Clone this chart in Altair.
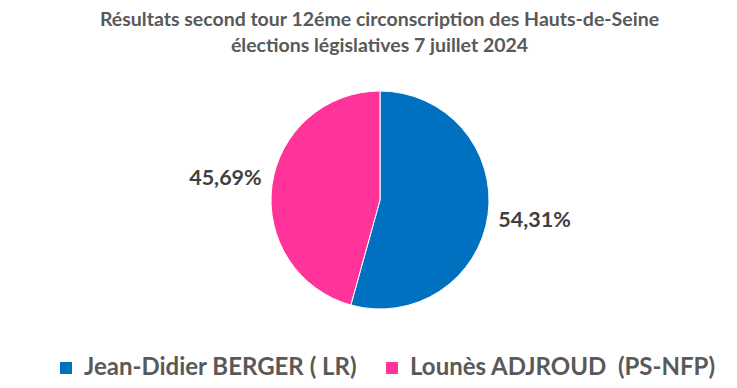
import altair as alt
import pandas as pd

candidates = ["Jean-Didier BERGER ( LR)", "Lounès ADJROUD\u00a0 (PS-NFP)"]
shares = [54.31, 45.69]
labels = ["54,31%", "45,69%"]
colors = ["#0070C0", "#FF3399"]
order = [1, 2]

df = pd.DataFrame({"candidat": candidates, "pct": shares, "label": labels, "ordre": order})

FONT = "Lato"
TOP = 52
cx, cy = 372, 192 - TOP

base = alt.Chart(df).encode(
    theta=alt.Theta("pct:Q", stack=True),
    order=alt.Order("ordre:Q"),
    x=alt.value(cx),
    y=alt.value(cy),
)

pie = base.mark_arc(outerRadius=109, stroke="white", strokeWidth=1).encode(
    color=alt.Color(
        "candidat:N",
        scale=alt.Scale(domain=candidates, range=colors),
        sort=candidates,
        legend=alt.Legend(
            title=None,
            orient="none",
            direction="horizontal",
            legendX=46,
            legendY=348 - TOP,
            symbolType="square",
            symbolSize=144,
            symbolStrokeWidth=0,
            labelFont=FONT,
            labelFontSize=24,
            labelFontWeight="bold",
            labelColor="#595959",
            labelLimit=400,
            columnPadding=22,
            labelOffset=6,
        ),
    )
)

text = base.mark_text(radius=156, font=FONT, fontSize=21.5, fontWeight="bold", color="#404040").encode(
    text="label:N"
)

chart = alt.layer(pie, text).properties(
    width=721,
    height=372 - TOP,
    autosize=alt.AutoSizeParams(type="none"),
    padding={"top": TOP, "left": 0, "right": 0, "bottom": 0},
    title=alt.TitleParams(
        ["Résultats second tour 12éme circonscription des Hauts-de-Seine", "élections législatives 7 juillet 2024"],
        anchor="middle",
        font=FONT,
        fontSize=19.5,
        fontWeight="bold",
        color="#595959",
        lineHeight=26,
        dx=11,
        offset=4,
    ),
).configure_view(stroke=None)

chart.save("out.html", embed_options={"renderer": "svg", "actions": False})
